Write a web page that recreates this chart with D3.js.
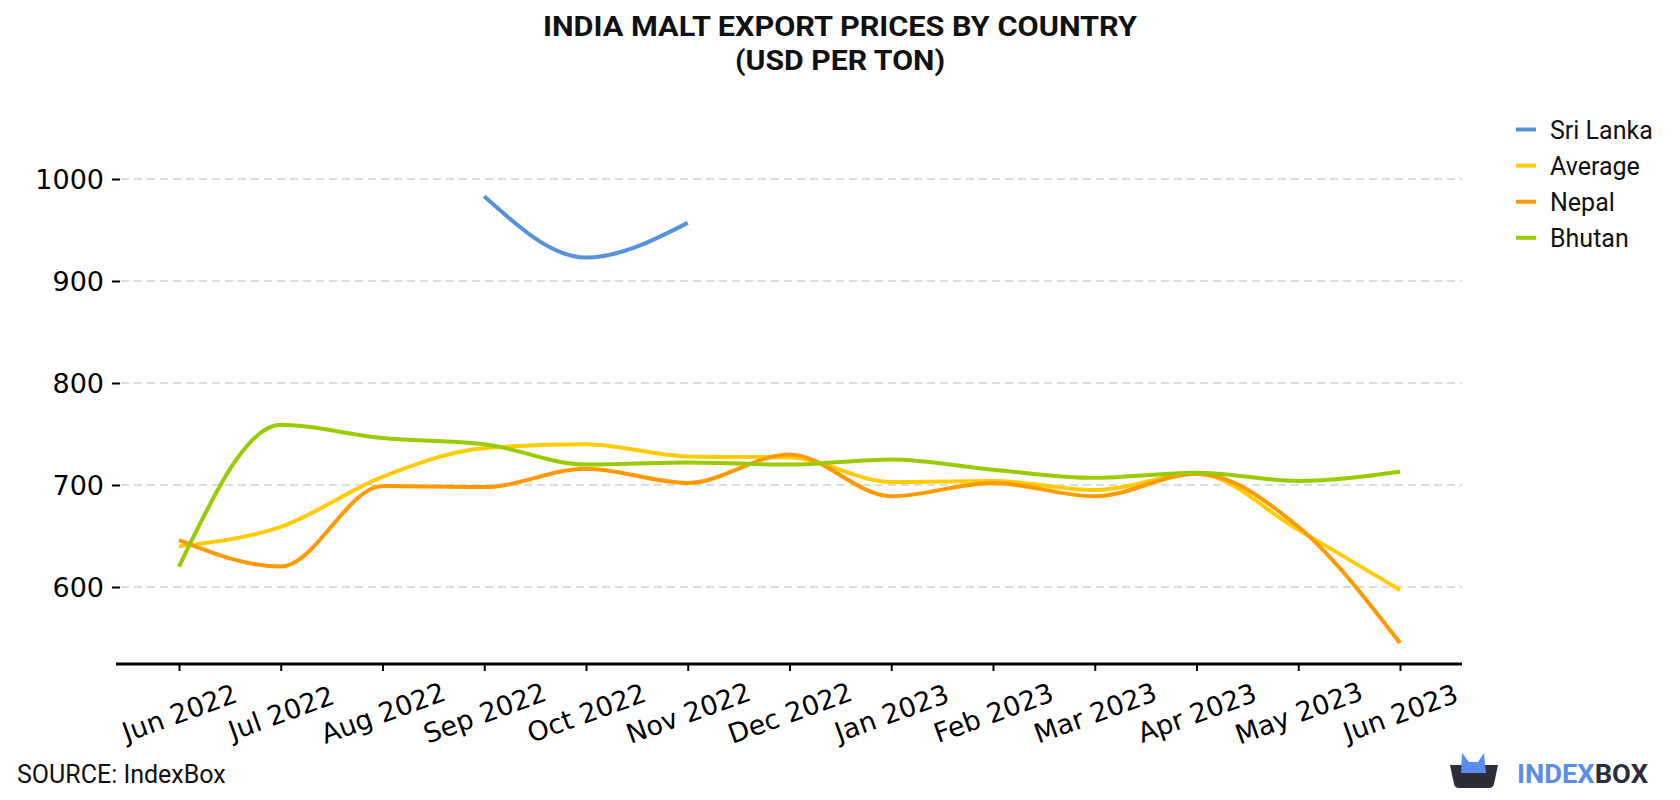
<!DOCTYPE html>
<html>
<head>
<meta charset="utf-8">
<script src="https://cdn.jsdelivr.net/npm/d3@7"></script>
<style>
  html, body { margin: 0; padding: 0; background: #ffffff; }
  svg { display: block; }
</style>
</head>
<body>
<script>
// ---------- DATA ----------
const months = ["Jun 2022","Jul 2022","Aug 2022","Sep 2022","Oct 2022","Nov 2022","Dec 2022",
                "Jan 2023","Feb 2023","Mar 2023","Apr 2023","May 2023","Jun 2023"];
const sriLanka = [null, null, null, 983, 923, 957, null, null, null, null, null, null, null];
const average  = [640, 659, 708, 736, 740, 728, 727, 703, 704, 695, 711, 656, 597];
const nepal    = [646, 620, 699, 698, 716, 702, 730, 689, 702, 689, 711, 659, 545];
const bhutan   = [620, 759, 746, 740, 720, 722, 720, 725, 715, 707, 712, 704, 713];
const seriesNames = ["Sri Lanka", "Average", "Nepal", "Bhutan"];
const yTicks = [600, 700, 800, 900, 1000];
const titleLines = ["INDIA MALT EXPORT PRICES BY COUNTRY", "(USD PER TON)"];
const sourceText = "SOURCE: IndexBox";

// ---------- STYLE ----------
const colors = { "Sri Lanka": "#5592db", "Average": "#ffcc00", "Nepal": "#ff9900", "Bhutan": "#99cc00" };
const seriesData = { "Sri Lanka": sriLanka, "Average": average, "Nepal": nepal, "Bhutan": bhutan };
const drawOrder = ["Average", "Nepal", "Bhutan", "Sri Lanka"];

const W = 1680, H = 800;
const svg = d3.select("body").append("svg").attr("width", W).attr("height", H);

const x = d3.scalePoint().domain(months).range([179, 1400]);
const y = d3.scaleLinear().domain([600, 1000]).range([587, 179]);

// Title
svg.append("text").attr("x", 840).attr("y", 36)
  .attr("text-anchor", "middle").attr("font-family", "Roboto").attr("font-weight", 700)
  .attr("font-size", 28).attr("fill", "#111")
  .attr("textLength", 594).attr("lengthAdjust", "spacingAndGlyphs")
  .text(titleLines[0]);
svg.append("text").attr("x", 840).attr("y", 70)
  .attr("text-anchor", "middle").attr("font-family", "Roboto").attr("font-weight", 700)
  .attr("font-size", 28).attr("fill", "#111")
  .attr("textLength", 210).attr("lengthAdjust", "spacingAndGlyphs")
  .text(titleLines[1]);

// Gridlines
const grid = svg.append("g");
grid.selectAll("line").data(yTicks).enter().append("line")
  .attr("x1", 121).attr("x2", 1462)
  .attr("y1", d => y(d)).attr("y2", d => y(d))
  .attr("stroke", "#dddddd").attr("stroke-width", 2).attr("stroke-dasharray", "8,5");

// Y axis (ticks + labels, no domain line)
const yAxis = d3.axisLeft(y).tickValues(yTicks).tickSize(8).tickPadding(8).tickFormat(d3.format("d"));
const gy = svg.append("g").attr("transform", "translate(120,0)").call(yAxis);
gy.select(".domain").remove();
gy.selectAll(".tick line").attr("stroke", "#000").attr("stroke-width", 2);
gy.selectAll(".tick text").attr("font-family", "DejaVu Sans").attr("font-size", 27)
  .attr("fill", "#000").attr("dy", "0.36em").attr("x", -16);

// X axis
const xAxis = d3.axisBottom(x).tickSize(7).tickPadding(0);
const gx = svg.append("g").attr("transform", "translate(0,664)").call(xAxis);
gx.select(".domain").attr("d", "M116,0H1462").attr("stroke", "#000").attr("stroke-width", 3);
gx.selectAll(".tick line").attr("stroke", "#000").attr("stroke-width", 2);
gx.selectAll(".tick text")
  .attr("font-family", "DejaVu Sans").attr("font-size", 27).attr("fill", "#000")
  .attr("text-anchor", "middle").attr("dy", "0.35em")
  .attr("y", 0)
  .attr("transform", "translate(0,49) rotate(-20)");

// Lines
const line = d3.line()
  .defined(d => d.v !== null)
  .x(d => x(d.m)).y(d => y(d.v))
  .curve(d3.curveMonotoneX);

drawOrder.forEach(name => {
  const pts = months.map((m, i) => ({ m, v: seriesData[name][i] })).filter(d => d.v !== null);
  svg.append("path").datum(pts)
    .attr("d", line)
    .attr("fill", "none").attr("stroke", colors[name]).attr("stroke-width", 4)
    .attr("stroke-linejoin", "round");
});

// Legend
const legend = svg.append("g");
seriesNames.forEach((name, i) => {
  const by = 138.5 + i * 36.1;
  legend.append("line").attr("x1", 1516).attr("x2", 1536)
    .attr("y1", by - 9).attr("y2", by - 9)
    .attr("stroke", colors[name]).attr("stroke-width", 4);
  legend.append("text").attr("x", 1550).attr("y", by)
    .attr("font-family", "Roboto").attr("font-size", 25).attr("fill", "#111")
    .text(name);
});

// Source
svg.append("text").attr("x", 17).attr("y", 783)
  .attr("font-family", "Roboto").attr("font-size", 25).attr("fill", "#111")
  .text(sourceText);

// Logo
const logo = svg.append("g");
logo.append("path")
  .attr("d", "M1450,765 L1498,765 L1494,784 Q1493,788 1489,788 L1459,788 Q1455,788 1454,784 Z")
  .attr("fill", "#2b2d3b");
logo.append("path")
  .attr("d", "M1461,773 L1462,753 L1469,762 L1478,762 L1484,753 L1486,773 Z")
  .attr("fill", "#5b8def");
const lt = logo.append("text").attr("x", 1517).attr("y", 783)
  .attr("font-family", "Roboto").attr("font-weight", 700).attr("font-size", 26)
  .attr("textLength", 131).attr("lengthAdjust", "spacingAndGlyphs");
lt.append("tspan").attr("fill", "#5b8def").text("INDEX");
lt.append("tspan").attr("fill", "#2b2d3b").text("BOX");
</script>
</body>
</html>
